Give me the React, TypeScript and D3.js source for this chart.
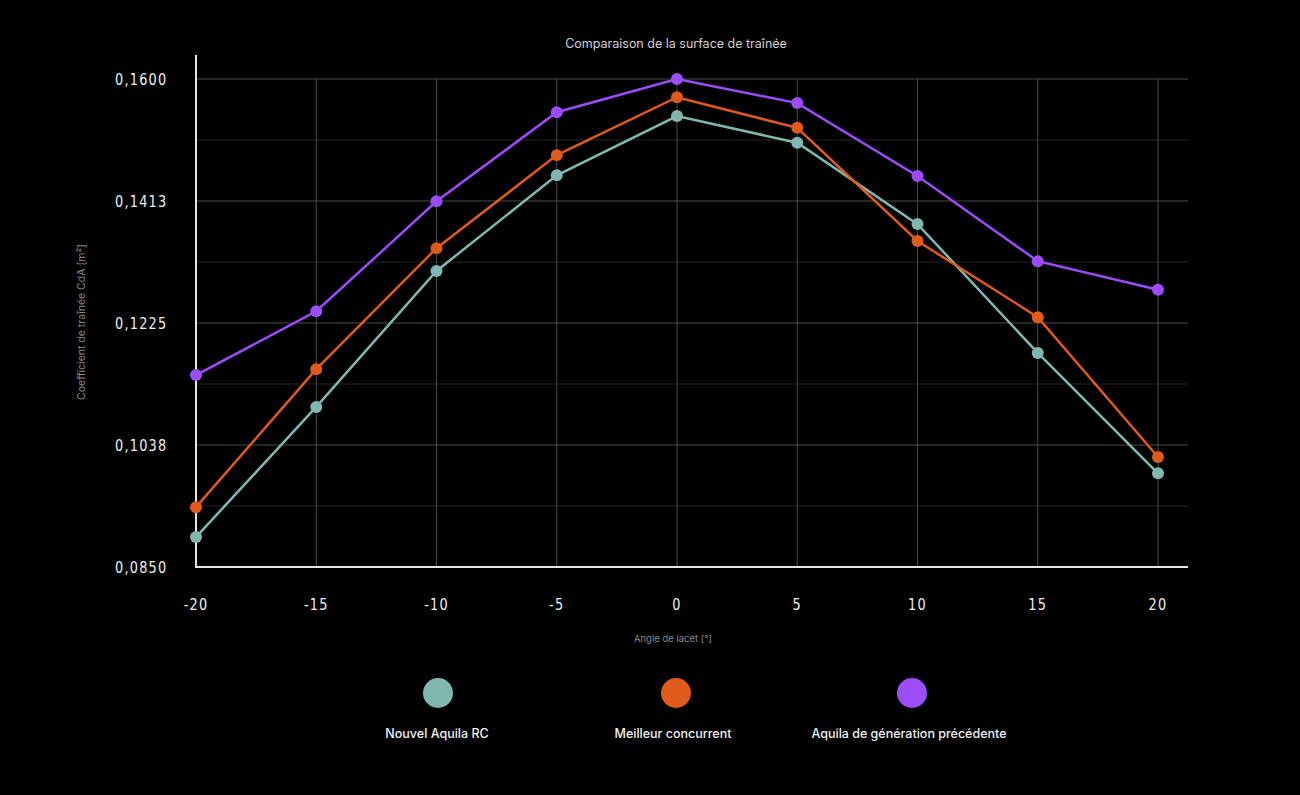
import * as d3 from "d3";
import { useEffect, useRef } from "react";

const angles = [-20, -15, -10, -5, 0, 5, 10, 15, 20];
const nouvelAquila = [0.0896, 0.1096, 0.1305, 0.1452, 0.1543, 0.1502, 0.1377, 0.1179, 0.0994];
const meilleurConcurrent = [0.0942, 0.1154, 0.134, 0.1483, 0.1572, 0.1525, 0.1351, 0.1234, 0.1019];
const aquilaPrecedente = [0.1145, 0.1243, 0.1412, 0.1549, 0.16, 0.1563, 0.1451, 0.132, 0.1276];
const yTicks = [0.085, 0.10375, 0.1225, 0.14125, 0.16];
const seriesNames = ["Nouvel Aquila RC", "Meilleur concurrent", "Aquila de génération précédente"];
const seriesColors = ["#80b8b1", "#e05a1c", "#9b4cfb"];

export default function App() {
  const ref = useRef<SVGSVGElement>(null);

  useEffect(() => {
    const svg = d3.select(ref.current);
    svg.selectAll("*").remove();

    const W = 1300, H = 795;
    const left = 196, right = 1188, top = 55, bottom = 567;

    const x = d3.scaleLinear().domain([-20, 20]).range([left, 1158]);
    const y = d3.scaleLinear().domain([0.085, 0.16]).range([bottom, 79]);

    svg.append("rect").attr("width", W).attr("height", H).attr("fill", "#000");

    // minor horizontal grid
    const minor = d3.pairs(yTicks).map(([a, b]) => (a + b) / 2);
    svg.append("g").selectAll("line").data(minor).join("line")
      .attr("x1", left).attr("x2", right)
      .attr("y1", d => y(d)).attr("y2", d => y(d))
      .attr("stroke", "#242424").attr("stroke-width", 1);

    // major horizontal grid
    svg.append("g").selectAll("line").data(yTicks.slice(1)).join("line")
      .attr("x1", left).attr("x2", right)
      .attr("y1", d => y(d)).attr("y2", d => y(d))
      .attr("stroke", "#4a4a4a").attr("stroke-width", 1);

    // vertical grid
    svg.append("g").selectAll("line").data(angles.slice(1)).join("line")
      .attr("x1", d => x(d)).attr("x2", d => x(d))
      .attr("y1", y(0.16)).attr("y2", bottom)
      .attr("stroke", "#4a4a4a").attr("stroke-width", 1);

    // axes
    svg.append("line").attr("x1", left).attr("x2", left).attr("y1", top).attr("y2", bottom)
      .attr("stroke", "#e6e6e6").attr("stroke-width", 2);
    svg.append("line").attr("x1", left - 1).attr("x2", right).attr("y1", bottom).attr("y2", bottom)
      .attr("stroke", "#e6e6e6").attr("stroke-width", 2);

    const tickFont = "'DejaVu Sans', sans-serif";
    const fmt = (v: number) => (Math.round(v * 10000 + 1e-6) / 10000).toFixed(4).replace(".", ",");

    // condensed tick labels: horizontal squeeze
    svg.append("g").selectAll("text").data(yTicks).join("text")
      .attr("transform", d => `translate(115,${y(d)}) scale(0.78,1)`)
      .attr("dy", "0.36em")
      .attr("fill", "#f0f0f0").attr("font-family", tickFont).attr("font-size", 16.5)
      .attr("letter-spacing", 1.6)
      .text(d => fmt(d));

    svg.append("g").selectAll("text").data(angles).join("text")
      .attr("transform", d => `translate(${x(d)},604) scale(0.78,1)`)
      .attr("dy", "0.36em")
      .attr("text-anchor", "middle")
      .attr("fill", "#f0f0f0").attr("font-family", tickFont).attr("font-size", 16.5)
      .attr("letter-spacing", 1.6)
      .text(d => String(d));

    const labelFont = "Inter, 'Noto Sans', sans-serif";

    svg.append("text").attr("x", 676).attr("y", 44).attr("dy", "0.35em")
      .attr("text-anchor", "middle").attr("fill", "#d0d0d0")
      .attr("font-family", labelFont).attr("font-size", 12.5)
      .text("Comparaison de la surface de traînée");

    svg.append("text").attr("x", 673).attr("y", 639).attr("dy", "0.35em")
      .attr("text-anchor", "middle").attr("fill", "#8a8a8a")
      .attr("font-family", labelFont).attr("font-size", 9.5)
      .text("Angle de lacet [°]");

    svg.append("text")
      .attr("transform", `translate(81,322) rotate(-90)`)
      .attr("dy", "0.35em")
      .attr("text-anchor", "middle").attr("fill", "#8a8a8a")
      .attr("font-family", labelFont).attr("font-size", 10.5)
      .text("Coefficient de traînée CdA [m²]");

    const allSeries = [nouvelAquila, meilleurConcurrent, aquilaPrecedente];
    const line = d3.line<number>().x((_, i) => x(angles[i])).y(d => y(d));

    allSeries.forEach((vals, s) => {
      const g = svg.append("g");
      g.append("path").attr("d", line(vals))
        .attr("fill", "none").attr("stroke", seriesColors[s]).attr("stroke-width", 2.5);
      g.selectAll("circle").data(vals).join("circle")
        .attr("cx", (_, i) => x(angles[i])).attr("cy", d => y(d))
        .attr("r", 6).attr("fill", seriesColors[s]);
    });

    // legend
    const legendX = [438, 676, 912];
    const legend = svg.append("g").selectAll("g").data(seriesNames).join("g")
      .attr("transform", (_, i) => `translate(${legendX[i]},0)`);
    legend.append("circle").attr("cy", 693).attr("r", 15)
      .attr("fill", (_, i) => seriesColors[i]);
    legend.append("text").attr("x", (_, i) => [-1, -3, -3][i]).attr("y", 734).attr("dy", "0.35em")
      .attr("text-anchor", "middle").attr("fill", "#f2f2f2")
      .attr("font-family", labelFont).attr("font-size", 12.5).attr("font-weight", 500)
      .text(d => d);
  }, []);

  return (
    <div style={{ position: "fixed", inset: 0, background: "#000" }}>
      <svg ref={ref} width={1300} height={795} style={{ display: "block" }} />
    </div>
  );
}
